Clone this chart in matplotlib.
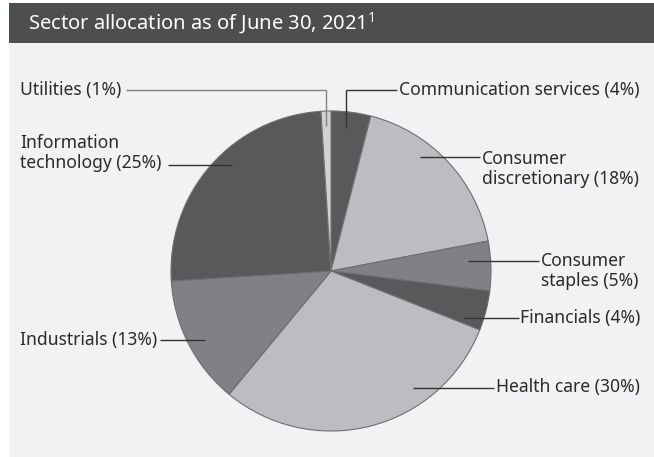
import matplotlib
matplotlib.use("Agg")
import matplotlib.pyplot as plt
from matplotlib.patches import Rectangle
import numpy as np

plt.rcParams['font.family'] = ['Noto Sans', 'DejaVu Sans']
plt.rcParams['mathtext.default'] = 'regular'

title = "Sector allocation as of June 30, 2021$^{1}$"
sectors = ["Communication services", "Consumer discretionary", "Consumer staples",
           "Financials", "Health care", "Industrials", "Information technology", "Utilities"]
weights = [4, 18, 5, 4, 30, 13, 25, 1]
labels = ["Communication services (4%)", "Consumer\ndiscretionary (18%)", "Consumer\nstaples (5%)",
          "Financials (4%)", "Health care (30%)", "Industrials (13%)",
          "Information\ntechnology (25%)", "Utilities (1%)"]
colors = ["#58595b", "#bcbdc0", "#808184", "#58595b", "#bcbdc0", "#808184", "#58595b", "#d1d2d4"]

W, H = 654, 457
fig = plt.figure(figsize=(W / 100, H / 100), dpi=100, facecolor="white")

# background panel and header
fig.patches.append(Rectangle((9 / W, 0), 1 - 9 / W, (H - 43) / H, transform=fig.transFigure,
                             facecolor="#f1f2f3", edgecolor="none", zorder=-10))
fig.patches.append(Rectangle((9 / W, (H - 43) / H), 1 - 9 / W, 40 / H, transform=fig.transFigure,
                             facecolor="#4d4e50", edgecolor="none", zorder=-10))
fig.text(28 / W, (H - 23) / H, title, color="white", fontsize=14.5, va="center", ha="left")

cx, cy, R = 331, 271, 160
ax = fig.add_axes([(cx - R) / W, (H - cy - R) / H, 2 * R / W, 2 * R / H])
ax.set_facecolor("none")
ax.set_zorder(5)
ax.pie(weights, colors=colors, startangle=90, counterclock=False, radius=1,
       wedgeprops=dict(edgecolor="#6d6e70", linewidth=0.8))
ax.set_xlim(-1, 1)
ax.set_ylim(-1, 1)
ax.set_aspect("equal")
ax.axis("off")

def px(x, y):
    return ((x - cx) / R, (cy - y) / R)

lc = "#333333"
fs = 12.6
tcol = "#2b2b2b"

def hline(x0, x1, y, color=lc):
    a = px(x0, y); b = px(x1, y)
    ax.plot([a[0], b[0]], [a[1], b[1]], color=color, lw=1.0, clip_on=False, solid_capstyle="butt")

def vline(x, y0, y1, color=lc):
    a = px(x, y0); b = px(x, y1)
    ax.plot([a[0], b[0]], [a[1], b[1]], color=color, lw=1.0, clip_on=False, solid_capstyle="butt")

def label(x, y, s, ha):
    p = px(x, y)
    ax.text(p[0], p[1], s, ha=ha, va="center", fontsize=fs, color=tcol, linespacing=1.12,
            multialignment="left", clip_on=False)

# Utilities
label(20, 90, labels[7], "left")
hline(126, 326, 90, "#808184")
vline(326, 90, 126, "#808184")
# Communication services
label(399, 90, labels[0], "left")
hline(346, 397, 90)
vline(346, 90, 128)
# Information technology
label(20, 153, labels[6], "left")
hline(168, 232, 165)
# Consumer discretionary
label(482, 169, labels[1], "left")
hline(420, 480, 157)
# Consumer staples
label(541, 271, labels[2], "left")
hline(468, 539, 261)
# Financials
label(640, 318, labels[3], "right")
hline(464, 519, 318)
# Health care
label(640, 387, labels[4], "right")
hline(413, 494, 388)
# Industrials
label(20, 340, labels[5], "left")
hline(160, 205, 340)

fig.savefig("out.png", dpi=100, facecolor=fig.get_facecolor())
